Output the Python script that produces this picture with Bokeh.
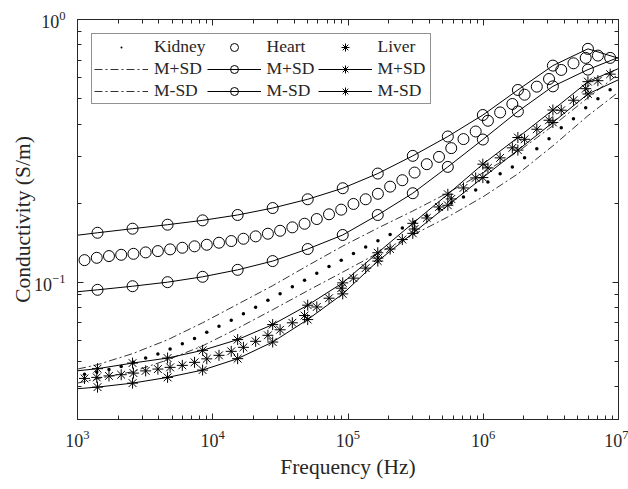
from bokeh.plotting import figure
from bokeh.models import (LogAxis, FixedTicker, CustomJSTickFormatter, LogTickFormatter,
                          Legend, LegendItem, Range1d)
from bokeh.embed import file_html
from bokeh.resources import INLINE

# ---------------- data ----------------
freq_mean = [1127, 1388, 1709, 2104, 2592, 3191, 3929, 4838, 5957, 7335, 9032,
             11120, 13700, 16860, 20760, 25570, 31480, 38770, 47730, 58780, 72370,
             89110, 109700, 135100, 166400, 204900, 252200, 310600, 382500, 470900,
             579900, 714000, 879200, 1083000, 1333000, 1641000, 2021000, 2489000,
             3064000, 3773000, 4646000, 5721000, 7044000, 8674000]
freq_sd = [774, 1406, 2553, 4634, 8414, 15280, 27730, 50350, 91410, 166000, 301300,
           547000, 993100, 1803000, 3273000, 5943000, 10790000]

kidney_mean = [0.04456, 0.04554, 0.04654, 0.04779, 0.04951, 0.05141, 0.05324, 0.05564,
               0.05834, 0.06097, 0.06444, 0.06793, 0.07161, 0.07582, 0.08027, 0.08538,
               0.0904, 0.09596, 0.1018, 0.1082, 0.1148, 0.1213, 0.1287, 0.1360, 0.1439,
               0.1518, 0.1608, 0.1694, 0.1790, 0.1900, 0.2002, 0.2111, 0.2245, 0.2408,
               0.2584, 0.2747, 0.2973, 0.3218, 0.3514, 0.3871, 0.4189, 0.4614, 0.4994,
               0.5405]
kidney_plus = [0.04534, 0.04852, 0.05344, 0.06033, 0.07004, 0.08241, 0.09696, 0.1156,
               0.1372, 0.1606, 0.1866, 0.2186, 0.2606, 0.3135, 0.3940, 0.5038, 0.6389]
kidney_minus = [0.0401, 0.0429, 0.04563, 0.0506, 0.05722, 0.06673, 0.07852, 0.09281,
                0.1092, 0.1289, 0.1512, 0.1771, 0.2111, 0.2584, 0.3304, 0.4301, 0.5453]

heart_mean = [0.1213, 0.1238, 0.1257, 0.1271, 0.1282, 0.1298, 0.1313, 0.1333, 0.1352,
              0.1369, 0.1388, 0.1413, 0.1434, 0.1463, 0.1494, 0.1529, 0.1569, 0.1617,
              0.1669, 0.1739, 0.1813, 0.1888, 0.1985, 0.2068, 0.2170, 0.2310, 0.2444,
              0.2614, 0.2813, 0.2999, 0.3238, 0.3505, 0.3747, 0.4116, 0.4427, 0.4768,
              0.5173, 0.5551, 0.5937, 0.6427, 0.6811, 0.7142, 0.7288, 0.7142]
heart_plus = [0.1485, 0.1542, 0.1598, 0.1655, 0.1719, 0.1802, 0.1915, 0.2068, 0.2278,
              0.2591, 0.3026, 0.3586, 0.4328, 0.5392, 0.6675, 0.7731, 0.7035]
heart_minus = [0.0908, 0.0935, 0.0965, 0.1000, 0.1048, 0.1114, 0.1203, 0.1337, 0.1512,
               0.1802, 0.2181, 0.2747, 0.3492, 0.4467, 0.5565, 0.6445, 0.7288]

liver_mean = [0.04301, 0.04339, 0.04396, 0.04443, 0.04506, 0.04594, 0.04668, 0.04738,
              0.04822, 0.04951, 0.05105, 0.05265, 0.05453, 0.05648, 0.05954, 0.06276,
              0.06588, 0.07004, 0.07463, 0.08047, 0.08687, 0.09486, 0.1036, 0.1131,
              0.1235, 0.1337, 0.1453, 0.1594, 0.1755, 0.1933, 0.2074, 0.2284, 0.2494,
              0.2723, 0.2973, 0.3246, 0.3499, 0.3821, 0.4135, 0.4515, 0.4928, 0.5453,
              0.5849, 0.6194]
liver_plus = [0.04534, 0.04684, 0.0492, 0.05141, 0.05502, 0.06044, 0.06894, 0.0817,
              0.09938, 0.1294, 0.1675, 0.2161, 0.2813, 0.3554, 0.4522, 0.5798, 0.6614]
liver_minus = [0.03888, 0.03985, 0.04127, 0.04339, 0.04627, 0.05114, 0.05917, 0.07204,
               0.09022, 0.1203, 0.1534, 0.1962, 0.2501, 0.3182, 0.4055, 0.5205, 0.6005]

x_major = [1e3, 1e4, 1e5, 1e6, 1e7]
y_major = [0.1, 1.0]
x_title = "Frequency (Hz)"
y_title = "Conductivity (S/m)"

# ---------------- styling ----------------
FONT = "Liberation Serif"
INK = "#262626"
XMIN, XMAX = 1e3, 1e7
YMIN, YMAX = 0.03, 1.0

x_minor = [m * 10 ** e for e in range(3, 7) for m in range(2, 10)]
y_minor = [m * 0.01 for m in range(3, 10)] + [m * 0.1 for m in range(2, 10)]

p = figure(frame_width=541, frame_height=400,
           x_axis_type="log", y_axis_type="log",
           x_range=Range1d(XMIN, XMAX), y_range=Range1d(YMIN, YMAX),
           output_backend="svg", toolbar_location=None,
           min_border_left=77, min_border_right=10, min_border_top=19,
           min_border_bottom=70, background_fill_color="white",
           border_fill_color="white")
p.grid.visible = False
p.outline_line_color = INK
p.outline_line_width = 1


def style_axis(ax, ticker, labels):
    ax.ticker = ticker
    if labels:
        ax.formatter = LogTickFormatter()
        ax.major_label_text_font_size = "18px"
    else:
        ax.formatter = CustomJSTickFormatter(code="return '';")
        ax.major_label_text_font_size = "1px"
        ax.major_label_standoff = 0
    ax.major_label_text_font = FONT
    ax.major_label_text_color = INK
    ax.major_tick_in = 6
    ax.major_tick_out = 0
    ax.minor_tick_in = 4
    ax.minor_tick_out = 0
    ax.axis_line_color = INK
    ax.major_tick_line_color = INK
    ax.minor_tick_line_color = INK
    ax.axis_label_text_font = FONT
    ax.axis_label_text_font_style = "normal"
    ax.axis_label_text_color = INK
    ax.axis_label_text_font_size = "21.5px"


style_axis(p.xaxis[0], FixedTicker(ticks=x_major, minor_ticks=x_minor), True)
style_axis(p.yaxis[0], FixedTicker(ticks=y_major, minor_ticks=y_minor), True)
p.xaxis[0].axis_label = x_title
p.yaxis[0].axis_label = y_title
p.xaxis[0].major_label_standoff = 10
p.yaxis[0].major_label_standoff = 12
p.xaxis[0].axis_label_standoff = 5
p.yaxis[0].axis_label_standoff = -4

top = LogAxis()
style_axis(top, FixedTicker(ticks=x_major, minor_ticks=x_minor), False)
p.add_layout(top, "above")
right = LogAxis()
style_axis(right, FixedTicker(ticks=y_major, minor_ticks=y_minor), False)
p.add_layout(right, "right")

MSIZE = 11


def inside(xs, ys):
    pts = [(x, y) for x, y in zip(xs, ys) if XMIN < x < XMAX]
    return [a for a, _ in pts], [b for _, b in pts]


# Kidney
k_dot = p.scatter(freq_mean, kidney_mean, marker="dot", size=14,
                  line_color="black", fill_color="black")
k_p = p.line(freq_sd, kidney_plus, line_color="black", line_width=0.8,
             line_dash="8 3 2 3")
k_m = p.line(freq_sd, kidney_minus, line_color="black", line_width=0.8,
             line_dash="8 3 2 3")

# Heart
h_o = p.scatter(freq_mean, heart_mean, marker="circle", size=MSIZE,
                fill_color=None, line_color="black", line_width=1)
h_pl = p.line(freq_sd, heart_plus, line_color="black", line_width=1)
xs, ys = inside(freq_sd, heart_plus)
h_ps = p.scatter(xs, ys, marker="circle", size=MSIZE, fill_color=None,
                 line_color="black", line_width=1)
h_ml = p.line(freq_sd, heart_minus, line_color="black", line_width=1)
xs, ys = inside(freq_sd, heart_minus)
h_ms = p.scatter(xs, ys, marker="circle", size=MSIZE, fill_color=None,
                 line_color="black", line_width=1)

# Liver
l_s = p.scatter(freq_mean, liver_mean, marker="asterisk", size=MSIZE,
                line_color="black", line_width=1)
l_pl = p.line(freq_sd, liver_plus, line_color="black", line_width=1)
xs, ys = inside(freq_sd, liver_plus)
l_ps = p.scatter(xs, ys, marker="asterisk", size=MSIZE, line_color="black",
                 line_width=1)
l_ml = p.line(freq_sd, liver_minus, line_color="black", line_width=1)
xs, ys = inside(freq_sd, liver_minus)
l_ms = p.scatter(xs, ys, marker="asterisk", size=MSIZE, line_color="black",
                 line_width=1)

items = [
    LegendItem(label="Kidney", renderers=[k_dot]),
    LegendItem(label="M+SD", renderers=[k_p]),
    LegendItem(label="M-SD", renderers=[k_m]),
    LegendItem(label="Heart", renderers=[h_o]),
    LegendItem(label="M+SD", renderers=[h_pl, h_ps]),
    LegendItem(label="M-SD", renderers=[h_ml, h_ms]),
    LegendItem(label="Liver", renderers=[l_s]),
    LegendItem(label="M+SD", renderers=[l_pl, l_ps]),
    LegendItem(label="M-SD", renderers=[l_ml, l_ms]),
]
legend = Legend(items=items, location="top_left", ncols=3,
                glyph_width=54, glyph_height=20, label_standoff=6,
                label_height=20, label_width=50,
                label_text_font=FONT, label_text_font_size="17.5px",
                label_text_color=INK,
                padding=2, spacing=1, margin=14,
                border_line_color=INK, border_line_width=1,
                background_fill_color="white", background_fill_alpha=1.0)
p.add_layout(legend)

open("out.html", "w").write(file_html(p, INLINE))
